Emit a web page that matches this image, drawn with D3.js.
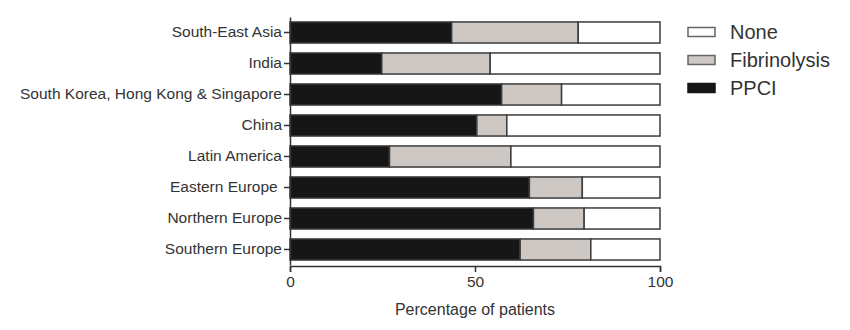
<!DOCTYPE html>
<html>
<head>
<meta charset="utf-8">
<script src="https://cdn.jsdelivr.net/npm/d3@7/dist/d3.min.js"></script>
<style>
  body { margin: 0; background: #fff; }
  svg text { font-family: "Liberation Sans", Arial, sans-serif; fill: #333; }
</style>
</head>
<body>
<svg id="chart" width="850" height="330"></svg>
<script>
// Regions, top to bottom
const regions = [
  "South-East Asia",
  "India",
  "South Korea, Hong Kong & Singapore",
  "China",
  "Latin America",
  "Eastern Europe ",
  "Northern Europe",
  "Southern Europe"
];
// Reperfusion strategy, % of patients
const ppci         = [43.7, 24.8, 57.2, 50.5, 26.9, 64.7, 65.8, 62.2];
const fibrinolysis = [34.2, 29.3, 16.2,  8.1, 32.8, 14.3, 13.7, 19.1];
const none         = ppci.map((p, i) => +(100 - p - fibrinolysis[i]).toFixed(1));

const seriesNames = ["PPCI", "Fibrinolysis", "None"];
const legendOrder = ["None", "Fibrinolysis", "PPCI"];
const xTicks = [0, 50, 100];

const fills  = { PPCI: "#161616", Fibrinolysis: "#cdc8c4", None: "#ffffff" };

const svg = d3.select("#chart");
const x = d3.scaleLinear().domain([0, 100]).range([290, 660]);
const y = d3.scaleBand().domain(regions).range([17, 265]).paddingInner(0.32).paddingOuter(0.16);

const rows = regions.map((r, i) => ({ region: r, PPCI: ppci[i], Fibrinolysis: fibrinolysis[i], None: none[i] }));
const stacked = d3.stack().keys(seriesNames)(rows);

// Stacked bars
svg.append("g").selectAll("g")
  .data(stacked)
  .join("g")
  .attr("fill", d => fills[d.key])
  .selectAll("rect")
  .data(d => d)
  .join("rect")
  .attr("x", d => x(d[0]))
  .attr("y", d => y(d.data.region))
  .attr("width", d => x(d[1]) - x(d[0]))
  .attr("height", y.bandwidth())
  .attr("stroke", "#3c3c3c")
  .attr("stroke-width", 1.5);

// X axis
const xAxis = svg.append("g")
  .attr("transform", "translate(0,266)")
  .call(d3.axisBottom(x).tickValues(xTicks).tickSize(6).tickPadding(4).tickFormat(d3.format("d")));
xAxis.select(".domain").attr("stroke", "#333").attr("stroke-width", 1.5);
xAxis.selectAll(".tick line").attr("stroke", "#333").attr("stroke-width", 1.5);
xAxis.selectAll("text").attr("font-size", 15.5).attr("fill", "#333")
  .style("font-family", "'Liberation Sans', Arial, sans-serif");

// Y axis
const yAxis = svg.append("g")
  .attr("transform", "translate(290,0)")
  .call(d3.axisLeft(y).tickSize(6).tickPadding(2).tickSizeOuter(0));
yAxis.select(".domain").attr("stroke", "#333").attr("stroke-width", 1.5);
yAxis.selectAll(".tick line").attr("stroke", "#333").attr("stroke-width", 1.5);
yAxis.selectAll("text").attr("font-size", 15.5).attr("fill", "#333")
  .style("white-space", "pre")
  .style("font-family", "'Liberation Sans', Arial, sans-serif");

// X axis title
svg.append("text")
  .attr("x", 475).attr("y", 315)
  .attr("text-anchor", "middle")
  .attr("font-size", 16)
  .text("Percentage of patients");

// Legend
const legend = svg.append("g").selectAll("g")
  .data(legendOrder)
  .join("g")
  .attr("transform", (d, i) => `translate(688,${32 + i * 28})`);
legend.append("rect")
  .attr("x", 0).attr("y", -4.5)
  .attr("width", 27).attr("height", 9)
  .attr("fill", d => fills[d])
  .attr("stroke", d => d === "PPCI" ? "#161616" : "#666")
  .attr("stroke-width", 1.5);
legend.append("text")
  .attr("x", 42).attr("y", 0)
  .attr("dy", "0.36em")
  .attr("font-size", 20)
  .text(d => d);
</script>
</body>
</html>
